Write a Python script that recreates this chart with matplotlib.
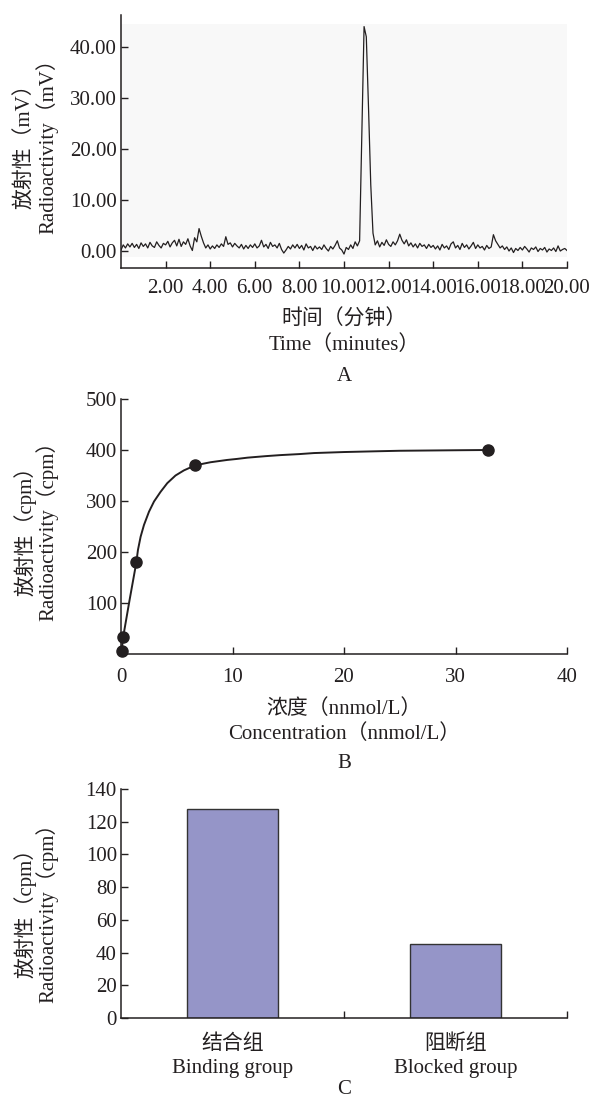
import numpy as np
import matplotlib
matplotlib.use('Agg')
import matplotlib.pyplot as plt
from matplotlib.ticker import FormatStrFormatter

plt.rcParams['font.family'] = ['Liberation Serif', 'Noto Sans CJK SC']
plt.rcParams['font.size'] = 15
ink = '#231f20'

# Panel A: radio-HPLC trace (mV), read every 0.1 min
minutes = np.round(np.arange(0, 20.01, 0.1), 1)
signal_mv = [
    0.2, 1.2, 0.6, 1.4, 0.8, 1.5, 0.7, 1.3, 0.5, 1.6,
    0.9, 1.4, 0.6, 1.7, 1.0, 0.7, 1.8, 1.1, 0.6, 1.5,
    1.2, 1.9, 0.8, 1.6, 2.1, 1.0, 2.3, 0.9, 1.8, 1.3,
    2.4, 1.0, 0.1, 2.6, 1.8, 4.4, 2.9, 1.6, 0.6, 1.2,
    0.4, 1.0, 0.5, 1.2, 0.7, 1.4, 0.9, 2.8, 1.3, 1.6,
    0.8, 1.5, 1.0, 0.6, 1.3, 0.4, 1.1, 0.5, 1.2, 0.7,
    1.4, 0.6, 1.0, 2.1, 0.8, 1.3, 0.5, 1.7, 0.9, 1.2,
    0.6, 1.5, 0.3, -0.4, 0.2, 0.9, 0.4, 1.2, 0.6, 1.3,
    0.5, 1.1, 0.2, 1.4, 0.6, 0.9, 0.1, 1.0, 0.4, 0.8,
    0.3, 1.2, 0.5, 0.0, 0.9, 0.4, 1.1, 2.0, 0.6, 0.2,
    -0.6, 0.7, 0.3, 1.2, 0.5, 1.8, 1.0, 2.0, 23.0, 44.0,
    42.0, 28.0, 13.0, 3.5, 1.2, 2.0, 0.8, 1.7, 1.1, 2.2,
    1.3, 0.9, 1.8, 1.2, 2.0, 3.3, 2.1, 1.4, 2.2, 1.0,
    1.6, 0.8, 1.4, 0.6, 1.5, 0.9, 1.2, 0.5, 1.3, 0.7,
    1.1, 0.4, 1.0, 0.2, 1.3, 0.6, 1.0, 0.3, 1.4, 1.8,
    0.6, 1.1, 0.3, 1.5, 0.7, 1.2, 0.4, 1.0, 1.7, 0.5,
    1.2, 0.6, 0.9, 0.2, 1.1, 0.5, 0.8, 3.2, 2.0, 1.3,
    0.6, 1.0, 0.3, 0.8, 0.0, 0.6, -0.3, 0.5, 0.1, 0.7,
    0.2, 0.9, 0.4, -0.2, 0.6, 0.3, 0.8, -0.1, 0.5, 0.2,
    0.7, -0.2, 0.4, 0.1, 0.6, -0.1, 1.0, 0.0, 0.3, 0.5,
    0.1,
]

# Panel B: saturation binding
conc_points = [0.05, 0.2, 1.33, 6.66, 32.9]
cpm_points = [5, 34, 180, 371, 400]
curve_conc = [0.05, 0.2, 0.77, 1.37, 1.52, 1.76, 2.06, 2.51, 2.96, 3.55,
              4.15, 4.89, 5.64, 6.66, 8.03, 9.52, 10.4, 11.35, 13.0, 14.3,
              16.0, 17.3, 20.0, 22.9, 25.0, 30.0, 32.9]
curve_cpm = [5, 34, 106, 179, 204, 230, 253, 279, 299, 318,
             335, 350, 360, 370, 376, 380.5, 382.5, 385, 388, 390,
             392, 394, 396, 397.5, 398.5, 399.5, 400]

# Panel C: bar chart
groups = ['结合组\nBinding group', '阻断组\nBlocked group']
group_cpm = [128, 45.5]


def style(ax):
    for side in ['top', 'right']:
        ax.spines[side].set_visible(False)
    for side in ['left', 'bottom']:
        ax.spines[side].set_color(ink)
        ax.spines[side].set_linewidth(1.1)
    ax.tick_params(direction='in', length=5, width=1, color=ink,
                   labelcolor=ink, labelsize=15)
    ax.tick_params(axis='y', pad=3)
    ax.tick_params(axis='x', pad=8)


fig = plt.figure(figsize=(5.9, 10.97), dpi=100)
W, H = 590.0, 1097.0


def axes_px(left, top, right, bottom):
    return fig.add_axes([left / W, 1 - bottom / H, (right - left) / W, (bottom - top) / H])


def two_line_ylabel(ycen, zh, en):
    fig.text(25 / W, 1 - ycen / H, zh, rotation=90, ha='center', va='center',
             color=ink, fontweight='light')
    fig.text(47 / W, 1 - ycen / H, en, rotation=90, ha='center', va='center', color=ink)


def centered(y, s, **kw):
    fig.text(344 / W, 1 - y / H, s, ha='center', va='center', color=ink, **kw)


# ---- A
axA = axes_px(121, 15, 567, 268)
style(axA)
axA.axhspan(-1.2, 44.5, color='#f8f8f8', zorder=0, lw=0)
axA.plot(minutes, signal_mv, color=ink, lw=0.9)
axA.set_xlim(0, 20)
axA.set_ylim(-3.33, 46.27)
axA.set_xticks(np.arange(2, 21, 2))
axA.set_yticks([0, 10, 20, 30, 40])
axA.xaxis.set_major_formatter(FormatStrFormatter('%.2f'))
axA.yaxis.set_major_formatter(FormatStrFormatter('%.2f'))
two_line_ylabel(141, '放射性（mV）', 'Radioactivity（mV）')
centered(320, '时间（分钟）', fontweight='light')
centered(345, 'Time（minutes）')
centered(377, 'A')

# ---- B
axB = axes_px(121, 399, 567, 654)
style(axB)
axB.plot(curve_conc, curve_cpm, color=ink, lw=1.4, clip_on=False,
         solid_joinstyle='round')
axB.plot(conc_points, cpm_points, 'o', color=ink, ms=8, clip_on=False, zorder=3)
axB.set_xlim(0, 40)
axB.set_ylim(0, 500)
axB.set_xticks([0, 10, 20, 30, 40])
axB.set_yticks([100, 200, 300, 400, 500])
axB.tick_params(axis='x', pad=10)
two_line_ylabel(526, '放射性（cpm）', 'Radioactivity（cpm）')
centered(709, '浓度（nnmol/L）', fontweight='light')
centered(734, 'Concentration（nnmol/L）')
centered(764, 'B')

# ---- C
axC = axes_px(121, 789, 567, 1018)
style(axC)
axC.bar([0.5, 1.5], group_cpm, width=0.41, color='#9595c8',
        edgecolor='#333333', linewidth=1)
axC.set_xlim(0, 2)
axC.set_ylim(0, 140)
axC.set_yticks(np.arange(0, 141, 20))
axC.set_xticks([1, 2])
axC.set_xticklabels([])
axC.set_xticks([0.5, 1.5], minor=True)
axC.set_xticklabels(groups, minor=True, linespacing=1.35)
axC.tick_params(axis='x', which='minor', length=0, pad=12, labelsize=15, labelcolor=ink)
two_line_ylabel(908, '放射性（cpm）', 'Radioactivity（cpm）')
centered(1089, 'C')

fig.savefig('out.png', dpi=100)
